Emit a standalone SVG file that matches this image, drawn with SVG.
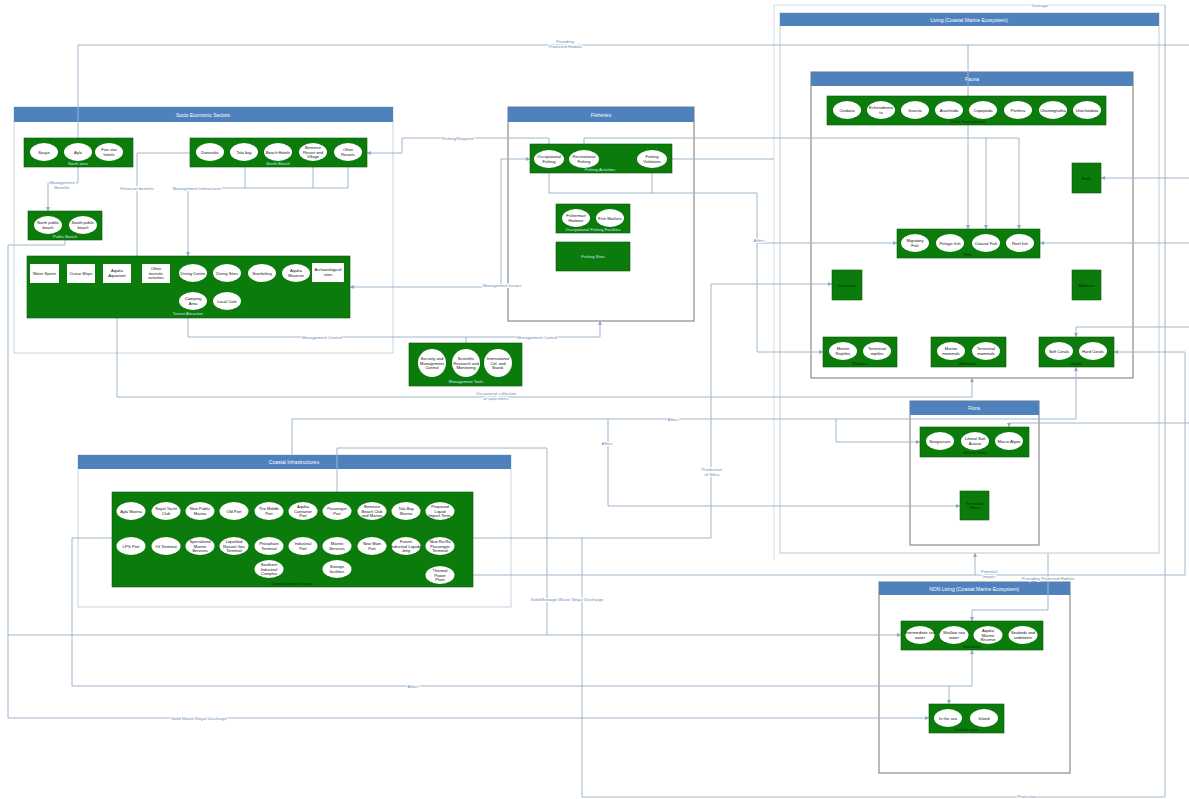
<svg xmlns="http://www.w3.org/2000/svg" width="1189" height="799" viewBox="0 0 1189 799">
<style>
.hd{fill:#4f81bd}
.ht{font:5px "Liberation Sans",sans-serif;fill:#fff;text-anchor:middle}
.bx{fill:#fff;stroke:#c6d3e0;stroke-width:1}
.bd{fill:#fff;stroke:#8a8a8a;stroke-width:1.2}
.g{fill:#0b7b0b;stroke:#0a5c0a;stroke-width:.6}
.e{fill:#fff}
.t{font:4.1px "Liberation Sans",sans-serif;fill:#111;text-anchor:middle}
.w{font:4.1px "Liberation Sans",sans-serif;fill:#cfe6ff;text-anchor:middle}
.k{font:4.1px "Liberation Sans",sans-serif;fill:#062806;text-anchor:middle}
.c{fill:none;stroke:#9fb6cb;stroke-width:1}
.l{font:4.3px "Liberation Sans",sans-serif;fill:#6d8db0;text-anchor:middle;stroke:#fff;stroke-width:2;paint-order:stroke}
</style>
<defs>
<marker id="a" viewBox="0 0 6 6" refX="6" refY="3" markerWidth="4" markerHeight="4" orient="auto-start-reverse"><path d="M0,0L6,3L0,6z" fill="#8fa8c0"/></marker>
</defs>
<rect width="1189" height="799" fill="#fff"/>

<!-- containers -->
<g id="socio-economic-sectors">
<rect class="bx" x="14" y="107" width="379" height="246"/>
<rect class="hd" x="14" y="107" width="379" height="15"/>
<text class="ht" x="203" y="116.5">Socio Economic Sectors</text>
</g>
<g id="fisheries">
<rect class="bd" x="508" y="107" width="186" height="214"/>
<rect class="hd" x="508" y="107" width="186" height="15"/>
<text class="ht" x="601" y="116.5">Fisheries</text>
</g>
<g id="living">
<path d="M774,560V5H1165" fill="none" stroke="#d3dee8" stroke-width="1"/>
<rect fill="#fff" stroke="#c8c8c8" x="780" y="13" width="379" height="540"/>
<rect class="hd" x="780" y="13" width="379" height="13"/>
<text class="ht" x="969" y="21.5">Living (Coastal Marine Ecosystem)</text>
</g>
<g id="fauna">
<rect class="bd" x="811" y="72" width="322" height="306"/>
<rect class="hd" x="811" y="72" width="322" height="14"/>
<text class="ht" x="972" y="80.8">Fauna</text>
</g>
<g id="flora">
<rect class="bd" x="910" y="401" width="129" height="144"/>
<rect class="hd" x="910" y="401" width="129" height="14"/>
<text class="ht" x="974" y="409.8">Flora</text>
</g>
<g id="coastal-infrastructures">
<rect class="bx" x="78" y="455" width="433" height="152"/>
<rect class="hd" x="78" y="455" width="433" height="14"/>
<text class="ht" x="294" y="463.8">Coastal Infrastructures</text>
</g>
<g id="non-living">
<rect class="bd" x="879" y="582" width="191" height="191"/>
<rect class="hd" x="879" y="582" width="191" height="13"/>
<text class="ht" x="974" y="590.5">NON Living (Coastal Marine Ecosystem)</text>
</g>

<!-- connectors -->
<g id="connectors">
<path class="c" d="M78,138V45H1189"/>
<path class="c" d="M968,45V229" marker-end="url(#a)"/>
<path class="c" d="M672,159H774"/>
<path class="c" d="M1165,5V797"/>
<path class="c" d="M549,144V138H402V153H367" marker-end="url(#a)"/>
<path class="c" d="M584,144V138H1019V229" marker-end="url(#a)"/>
<path class="c" d="M986,138V229" marker-end="url(#a)"/>
<path class="c" d="M78,162V183H48V211" marker-end="url(#a)"/>
<path class="c" d="M190,153H137V273H131" marker-end="url(#a)"/>
<path class="c" d="M245,162V188M313,162V188M348,162V188H188V256" marker-end="url(#a)"/>
<path class="c" d="M549,168V193H757V352H823" marker-end="url(#a)"/>
<path class="c" d="M652,168V193"/>
<path class="c" d="M757,243H897" marker-end="url(#a)"/>
<path class="c" d="M530,159H501V287H350" marker-start="url(#a)" marker-end="url(#a)"/>
<path class="c" d="M188,318V337H600V321" marker-end="url(#a)"/>
<path class="c" d="M466,343V337"/>
<path class="c" d="M117,283V397H972V378" marker-end="url(#a)"/>
<path class="c" d="M292,455V419H1076V367" marker-end="url(#a)"/>
<path class="c" d="M608,419V506H960" marker-end="url(#a)"/>
<path class="c" d="M836,419V442H920" marker-end="url(#a)"/>
<path class="c" d="M1189,327H1076V337" marker-end="url(#a)"/>
<path class="c" d="M1189,423H1009V427" marker-end="url(#a)"/>
<path class="c" d="M1189,178H1101" marker-end="url(#a)"/>
<path class="c" d="M1189,243H1040" marker-end="url(#a)"/>
<path class="c" d="M473,538H711V284H832" marker-end="url(#a)"/>
<path class="c" d="M582,538V797H1165"/>
<path class="c" d="M455,575H1185V352H1114" marker-end="url(#a)"/>
<path class="c" d="M975,575V553" marker-end="url(#a)"/>
<path class="c" d="M1048,553V610H972V621" marker-end="url(#a)"/>
<path class="c" d="M65,240V245H8V718H929" marker-end="url(#a)"/>
<path class="c" d="M8,635H901" marker-end="url(#a)"/>
<path class="c" d="M337,502V448H547V635"/>
<path class="c" d="M112,538H72V686H972V650" marker-end="url(#a)"/>
<path class="c" d="M949,686V704" marker-end="url(#a)"/>
<text class="l" x="565" y="43">Providing<tspan x="565" dy="5">Protected Habitat</tspan></text>
<text class="l" x="1040" y="7">Damage</text>
<text class="l" x="458" y="140">Fishing/Negative</text>
<text class="l" x="62" y="184">Management<tspan x="62" dy="5">Benefits</tspan></text>
<text class="l" x="137" y="189.5">Financial benefits</text>
<text class="l" x="197" y="189.5">Management Interactions</text>
<text class="l" x="502" y="286.5">Management Issues</text>
<text class="l" x="322" y="338.5">Management Control</text>
<text class="l" x="537" y="338.5">Management Control</text>
<text class="l" x="496" y="395">Occasional collection<tspan x="496" dy="5">of specimens</tspan></text>
<text class="l" x="759" y="241.5">Affect</text>
<text class="l" x="673" y="420.5">Affect</text>
<text class="l" x="607" y="444.5">Affect</text>
<text class="l" x="712" y="471">Production<tspan x="712" dy="5">of Silica</tspan></text>
<text class="l" x="567" y="601">Solid/Sewage Waste Illegal Discharge</text>
<text class="l" x="413" y="687.5">Affect</text>
<text class="l" x="199" y="720">Solid Waste Illegal Discharge</text>
<text class="l" x="989" y="573">Potential<tspan x="989" dy="5">Impact</tspan></text>
<text class="l" x="1048" y="580">Providing Protected Habitat</text>
<text class="l" x="1027" y="798">Protection</text>
</g>

<!-- Socio nodes -->
<g id="north-area">
<rect class="g" x="24" y="138" width="109" height="29"/>
<ellipse class="e" cx="44" cy="152" rx="14" ry="9"/>
<ellipse class="e" cx="78" cy="152" rx="14" ry="9"/>
<ellipse class="e" cx="109" cy="152" rx="14" ry="9"/>
<text class="t" x="44" y="153.5">Sasyo</text>
<text class="t" x="78" y="153.5">Ayla</text>
<text class="t" x="109" y="151.2">Five star<tspan x="109" dy="4.6">hotels</tspan></text>
<text class="w" x="78" y="165">North area</text>
</g>
<g id="south-beach">
<rect class="g" x="190" y="138" width="177" height="29"/>
<ellipse class="e" cx="210" cy="152" rx="14" ry="9"/>
<ellipse class="e" cx="244" cy="152" rx="14" ry="9"/>
<ellipse class="e" cx="278" cy="152" rx="14" ry="9"/>
<ellipse class="e" cx="313" cy="152" rx="14" ry="9"/>
<ellipse class="e" cx="348" cy="152" rx="14" ry="9"/>
<text class="t" x="210" y="153.5">Dananiko</text>
<text class="t" x="244" y="153.5">Tala bay</text>
<text class="t" x="278" y="153.5">Beach Hotels</text>
<text class="t" x="313" y="148.9">Berenice<tspan x="313" dy="4.6">Resort and</tspan><tspan x="313" dy="4.6">Village</tspan></text>
<text class="t" x="348" y="151.2">Other<tspan x="348" dy="4.6">Resorts</tspan></text>
<text class="w" x="278" y="165">South Beach</text>
</g>
<g id="public-beach">
<rect class="g" x="28" y="211" width="74" height="29"/>
<ellipse class="e" cx="48" cy="225" rx="14" ry="9"/>
<ellipse class="e" cx="83" cy="225" rx="14" ry="9"/>
<text class="t" x="48" y="224.2">North public<tspan x="48" dy="4.6">beach</tspan></text>
<text class="t" x="83" y="224.2">South public<tspan x="83" dy="4.6">beach</tspan></text>
<text class="w" x="65" y="238">Public Beach</text>
</g>
<g id="tourist-attraction">
<rect class="g" x="27" y="256" width="323" height="62"/>
<rect class="e" x="30" y="264" width="29" height="19"/>
<rect class="e" x="67" y="264" width="28" height="19"/>
<rect class="e" x="103" y="264" width="28" height="19"/>
<rect class="e" x="142" y="264" width="28" height="19"/>
<rect class="e" x="312" y="263" width="32" height="19"/>
<ellipse class="e" cx="193" cy="273" rx="14" ry="9"/>
<ellipse class="e" cx="227" cy="273" rx="14" ry="9"/>
<ellipse class="e" cx="262" cy="273" rx="14" ry="9"/>
<ellipse class="e" cx="296" cy="273" rx="14" ry="9"/>
<ellipse class="e" cx="193" cy="301" rx="14" ry="9"/>
<ellipse class="e" cx="227" cy="301" rx="14" ry="9"/>
<text class="t" x="44.5" y="275">Water Sports</text>
<text class="t" x="81" y="275">Cruise Ships</text>
<text class="t" x="117" y="272.2">Aqaba<tspan x="117" dy="4.6">Aquarium</tspan></text>
<text class="t" x="156" y="269.9">Other<tspan x="156" dy="4.6">touristic</tspan><tspan x="156" dy="4.6">activities</tspan></text>
<text class="t" x="328" y="271.2">Archaeological<tspan x="328" dy="4.6">sites</tspan></text>
<text class="t" x="193" y="274.5">Diving Centre</text>
<text class="t" x="227" y="274.5">Diving Sites</text>
<text class="t" x="262" y="274.5">Snorkeling</text>
<text class="t" x="296" y="272.2">Aqaba<tspan x="296" dy="4.6">Museum</tspan></text>
<text class="t" x="193" y="300.2">Camping<tspan x="193" dy="4.6">Area</tspan></text>
<text class="t" x="227" y="302.5">Local Cafe</text>
<text class="w" x="188" y="315">Tourist Attraction</text>
</g>

<!-- Fisheries nodes -->
<g id="fishing-activities">
<rect class="g" x="530" y="144" width="142" height="29"/>
<ellipse class="e" cx="549" cy="159" rx="15" ry="9"/>
<ellipse class="e" cx="584" cy="159" rx="15" ry="9"/>
<ellipse class="e" cx="652" cy="159" rx="15" ry="9"/>
<text class="t" x="549" y="158.2">Occupational<tspan x="549" dy="4.6">Fishing</tspan></text>
<text class="t" x="584" y="158.2">Recreational<tspan x="584" dy="4.6">Fishing</tspan></text>
<text class="t" x="652" y="158.2">Fishing<tspan x="652" dy="4.6">Violations</tspan></text>
<text class="w" x="600" y="171">Fishing Activities</text>
</g>
<g id="occupational-fishing-facilities">
<rect class="g" x="556" y="204" width="74" height="29"/>
<ellipse class="e" cx="576" cy="218" rx="14" ry="9"/>
<ellipse class="e" cx="610" cy="218" rx="14" ry="9"/>
<text class="t" x="576" y="217.2">Fisherman<tspan x="576" dy="4.6">Harbour</tspan></text>
<text class="t" x="610" y="219.5">Fish Markets</text>
<text class="w" x="593" y="230.5">Occupational Fishing Facilities</text>
</g>
<g id="fishing-sites">
<rect class="g" x="556" y="242" width="74" height="29"/>
<text class="w" x="593" y="258" fill="#fff">Fishing Sites</text>
</g>
<g id="management-tools">
<rect class="g" x="409" y="343" width="113" height="43"/>
<circle class="e" cx="432" cy="363" r="14"/>
<circle class="e" cx="466" cy="363" r="14"/>
<circle class="e" cx="498" cy="363" r="14"/>
<text class="t" x="432" y="359.9">Security and<tspan x="432" dy="4.6">Management</tspan><tspan x="432" dy="4.6">Control</tspan></text>
<text class="t" x="466" y="359.9">Scientific<tspan x="466" dy="4.6">Research and</tspan><tspan x="466" dy="4.6">Monitoring</tspan></text>
<text class="t" x="498" y="359.9">International<tspan x="498" dy="4.6">Col. and</tspan><tspan x="498" dy="4.6">Stand.</tspan></text>
<text class="w" x="466" y="383">Management Tools</text>
</g>

<!-- Fauna nodes -->
<g id="other-invertebrates">
<rect class="g" x="827" y="96" width="279" height="29"/>
<ellipse class="e" cx="847" cy="110" rx="14" ry="9"/>
<ellipse class="e" cx="881" cy="110" rx="14" ry="9"/>
<ellipse class="e" cx="915" cy="110" rx="14" ry="9"/>
<ellipse class="e" cx="949" cy="110" rx="14" ry="9"/>
<ellipse class="e" cx="983" cy="110" rx="14" ry="9"/>
<ellipse class="e" cx="1018" cy="110" rx="14" ry="9"/>
<ellipse class="e" cx="1053" cy="110" rx="14" ry="9"/>
<ellipse class="e" cx="1087" cy="110" rx="14" ry="9"/>
<text class="t" x="847" y="111.5">Cnidaria</text>
<text class="t" x="881" y="109.2">Echinoderma<tspan x="881" dy="4.6">ta</tspan></text>
<text class="t" x="915" y="111.5">Insecta</text>
<text class="t" x="949" y="111.5">Arachnida</text>
<text class="t" x="983" y="111.5">Copepoda</text>
<text class="t" x="1018" y="111.5">Porifera</text>
<text class="t" x="1053" y="111.5">Chaetognatha</text>
<text class="t" x="1087" y="111.5">Urochordata</text>
<text class="k" x="968" y="122.5">Other Invertebrates</text>
</g>
<g id="birds">
<rect class="g" x="1072" y="163" width="29" height="30"/>
<text class="k" x="1086.5" y="179.5">Birds</text>
</g>
<g id="fish">
<rect class="g" x="897" y="229" width="143" height="29"/>
<ellipse class="e" cx="915" cy="243" rx="14" ry="9"/>
<ellipse class="e" cx="950" cy="243" rx="14" ry="9"/>
<ellipse class="e" cx="986" cy="243" rx="14" ry="9"/>
<ellipse class="e" cx="1020" cy="243" rx="14" ry="9"/>
<text class="t" x="915" y="242.2">Migratory<tspan x="915" dy="4.6">Fish</tspan></text>
<text class="t" x="950" y="244.5">Pelagic fish</text>
<text class="t" x="986" y="244.5">Coastal Fish</text>
<text class="t" x="1020" y="244.5">Reef fish</text>
<text class="k" x="968" y="256">Fish</text>
</g>
<g id="crustacea">
<rect class="g" x="832" y="270" width="30" height="30"/>
<text class="k" x="847" y="286.5">Crustacea</text>
</g>
<g id="mollusca">
<rect class="g" x="1072" y="270" width="29" height="30"/>
<text class="k" x="1086.5" y="286.5">Mollusca</text>
</g>
<g id="reptiles">
<rect class="g" x="823" y="337" width="74" height="30"/>
<ellipse class="e" cx="843" cy="351" rx="14" ry="9"/>
<ellipse class="e" cx="877" cy="351" rx="14" ry="9"/>
<text class="t" x="843" y="350.2">Marine<tspan x="843" dy="4.6">Reptiles</tspan></text>
<text class="t" x="877" y="350.2">Terrestrial<tspan x="877" dy="4.6">reptiles</tspan></text>
<text class="k" x="860" y="364.5">Reptiles</text>
</g>
<g id="mammals">
<rect class="g" x="931" y="337" width="75" height="30"/>
<ellipse class="e" cx="951" cy="351" rx="14" ry="9"/>
<ellipse class="e" cx="986" cy="351" rx="14" ry="9"/>
<text class="t" x="951" y="350.2">Marine<tspan x="951" dy="4.6">mammals</tspan></text>
<text class="t" x="986" y="350.2">Terrestrial<tspan x="986" dy="4.6">mammals</tspan></text>
<text class="k" x="968" y="364.5">Mammals</text>
</g>
<g id="corals">
<rect class="g" x="1039" y="337" width="75" height="30"/>
<ellipse class="e" cx="1059" cy="351" rx="14" ry="9"/>
<ellipse class="e" cx="1093" cy="351" rx="14" ry="9"/>
<text class="t" x="1059" y="352.5">Soft Corals</text>
<text class="t" x="1093" y="352.5">Hard Corals</text>
<text class="k" x="1076" y="364.5">Corals</text>
</g>

<!-- Flora nodes -->
<g id="marine-flora">
<rect class="g" x="920" y="427" width="109" height="30"/>
<ellipse class="e" cx="940" cy="441" rx="14" ry="9"/>
<ellipse class="e" cx="975" cy="441" rx="14" ry="9"/>
<ellipse class="e" cx="1009" cy="441" rx="14" ry="9"/>
<text class="t" x="940" y="442.5">Seagrasses</text>
<text class="t" x="975" y="440.2">Littoral Salt<tspan x="975" dy="4.6">Acacia</tspan></text>
<text class="t" x="1009" y="442.5">Macro Algae</text>
<text class="k" x="975" y="454">Marine Flora</text>
</g>
<g id="terrestrial-flora">
<rect class="g" x="960" y="491" width="29" height="29"/>
<text class="k" x="974.5" y="504.5">Terrestrial<tspan x="974.5" dy="4.6">Flora</tspan></text>
</g>

<!-- Coastal infrastructures node -->
<g id="coastal-infrastructures-group">
<rect class="g" x="112" y="492" width="361" height="95"/>
<g>
<ellipse class="e" cx="131" cy="511" rx="14.5" ry="9"/>
<ellipse class="e" cx="166" cy="511" rx="14.5" ry="9"/>
<ellipse class="e" cx="200" cy="511" rx="14.5" ry="9"/>
<ellipse class="e" cx="234" cy="511" rx="14.5" ry="9"/>
<ellipse class="e" cx="269" cy="511" rx="14.5" ry="9"/>
<ellipse class="e" cx="303" cy="511" rx="14.5" ry="9"/>
<ellipse class="e" cx="337" cy="511" rx="14.5" ry="9"/>
<ellipse class="e" cx="372" cy="511" rx="14.5" ry="9"/>
<ellipse class="e" cx="406" cy="511" rx="14.5" ry="9"/>
<ellipse class="e" cx="440" cy="511" rx="14.5" ry="9"/>
<ellipse class="e" cx="131" cy="546" rx="14.5" ry="9"/>
<ellipse class="e" cx="166" cy="546" rx="14.5" ry="9"/>
<ellipse class="e" cx="200" cy="546" rx="14.5" ry="9"/>
<ellipse class="e" cx="234" cy="546" rx="14.5" ry="9"/>
<ellipse class="e" cx="269" cy="546" rx="14.5" ry="9"/>
<ellipse class="e" cx="303" cy="546" rx="14.5" ry="9"/>
<ellipse class="e" cx="337" cy="546" rx="14.5" ry="9"/>
<ellipse class="e" cx="372" cy="546" rx="14.5" ry="9"/>
<ellipse class="e" cx="406" cy="546" rx="14.5" ry="9"/>
<ellipse class="e" cx="440" cy="546" rx="14.5" ry="9"/>
<ellipse class="e" cx="269" cy="569" rx="14.5" ry="9"/>
<ellipse class="e" cx="337" cy="569" rx="14.5" ry="9"/>
<ellipse class="e" cx="440" cy="575" rx="14.5" ry="9"/>
</g>
<text class="t" x="131" y="512.5">Ayla Marina</text>
<text class="t" x="166" y="510.2">Royal Yacht<tspan x="166" dy="4.6">Club</tspan></text>
<text class="t" x="200" y="510.2">New Public<tspan x="200" dy="4.6">Marina</tspan></text>
<text class="t" x="234" y="512.5">Old Port</text>
<text class="t" x="269" y="510.2">The Middle<tspan x="269" dy="4.6">Port</tspan></text>
<text class="t" x="303" y="507.9">Aqaba<tspan x="303" dy="4.6">Container</tspan><tspan x="303" dy="4.6">Port</tspan></text>
<text class="t" x="337" y="510.2">Passenger<tspan x="337" dy="4.6">Port</tspan></text>
<text class="t" x="372" y="507.9">Berenice<tspan x="372" dy="4.6">Beach Club</tspan><tspan x="372" dy="4.6">and Marina</tspan></text>
<text class="t" x="406" y="510.2">Tala Bay<tspan x="406" dy="4.6">Marina</tspan></text>
<text class="t" x="440" y="507.9">Proposed<tspan x="440" dy="4.6">Liquid</tspan><tspan x="440" dy="4.6">Import Term.</tspan></text>
<text class="t" x="131" y="547.5">LPG Port</text>
<text class="t" x="166" y="547.5">Oil Terminal</text>
<text class="t" x="200" y="542.9">Specialized<tspan x="200" dy="4.6">Marine</tspan><tspan x="200" dy="4.6">Services</tspan></text>
<text class="t" x="234" y="542.9">Liquefied<tspan x="234" dy="4.6">Natural Gas</tspan><tspan x="234" dy="4.6">Terminal</tspan></text>
<text class="t" x="269" y="545.2">Phosphate<tspan x="269" dy="4.6">Terminal</tspan></text>
<text class="t" x="303" y="545.2">Industrial<tspan x="303" dy="4.6">Port</tspan></text>
<text class="t" x="337" y="545.2">Marine<tspan x="337" dy="4.6">Services</tspan></text>
<text class="t" x="372" y="545.2">New Main<tspan x="372" dy="4.6">Port</tspan></text>
<text class="t" x="406" y="542.9">Future<tspan x="406" dy="4.6">Industrial Liquids</tspan><tspan x="406" dy="4.6">Jetty</tspan></text>
<text class="t" x="440" y="542.9">New Ro-Ro<tspan x="440" dy="4.6">Passenger</tspan><tspan x="440" dy="4.6">Terminal</tspan></text>
<text class="t" x="269" y="565.9">Southern<tspan x="269" dy="4.6">Industrial</tspan><tspan x="269" dy="4.6">Complex</tspan></text>
<text class="t" x="337" y="568.2">Storage<tspan x="337" dy="4.6">facilities</tspan></text>
<text class="t" x="440" y="571.9">Thermal<tspan x="440" dy="4.6">Power</tspan><tspan x="440" dy="4.6">Plant</tspan></text>
<text class="k" x="292" y="585">Coastal Infrastructures</text>
</g>

<!-- NON Living nodes -->
<g id="sea-water">
<rect class="g" x="901" y="621" width="142" height="29"/>
<ellipse class="e" cx="920" cy="635" rx="14.5" ry="9"/>
<ellipse class="e" cx="954" cy="635" rx="14.5" ry="9"/>
<ellipse class="e" cx="988" cy="635" rx="14.5" ry="9"/>
<ellipse class="e" cx="1023" cy="635" rx="14.5" ry="9"/>
<text class="t" x="920" y="634.2">Intermediate sea<tspan x="920" dy="4.6">water</tspan></text>
<text class="t" x="954" y="634.2">Shallow sea<tspan x="954" dy="4.6">water</tspan></text>
<text class="t" x="988" y="631.9">Aqaba<tspan x="988" dy="4.6">Marine</tspan><tspan x="988" dy="4.6">Reserve</tspan></text>
<text class="t" x="1023" y="634.2">Seabeds and<tspan x="1023" dy="4.6">sediments</tspan></text>
<text class="k" x="972" y="648">Sea water</text>
</g>
<g id="coastal-zone">
<rect class="g" x="929" y="704" width="75" height="29"/>
<ellipse class="e" cx="948" cy="718" rx="14" ry="9"/>
<ellipse class="e" cx="984" cy="718" rx="14" ry="9"/>
<text class="t" x="948" y="719.5">In the sea</text>
<text class="t" x="984" y="719.5">Inland</text>
<text class="k" x="966" y="731">Coastal zone</text>
</g>
</svg>
